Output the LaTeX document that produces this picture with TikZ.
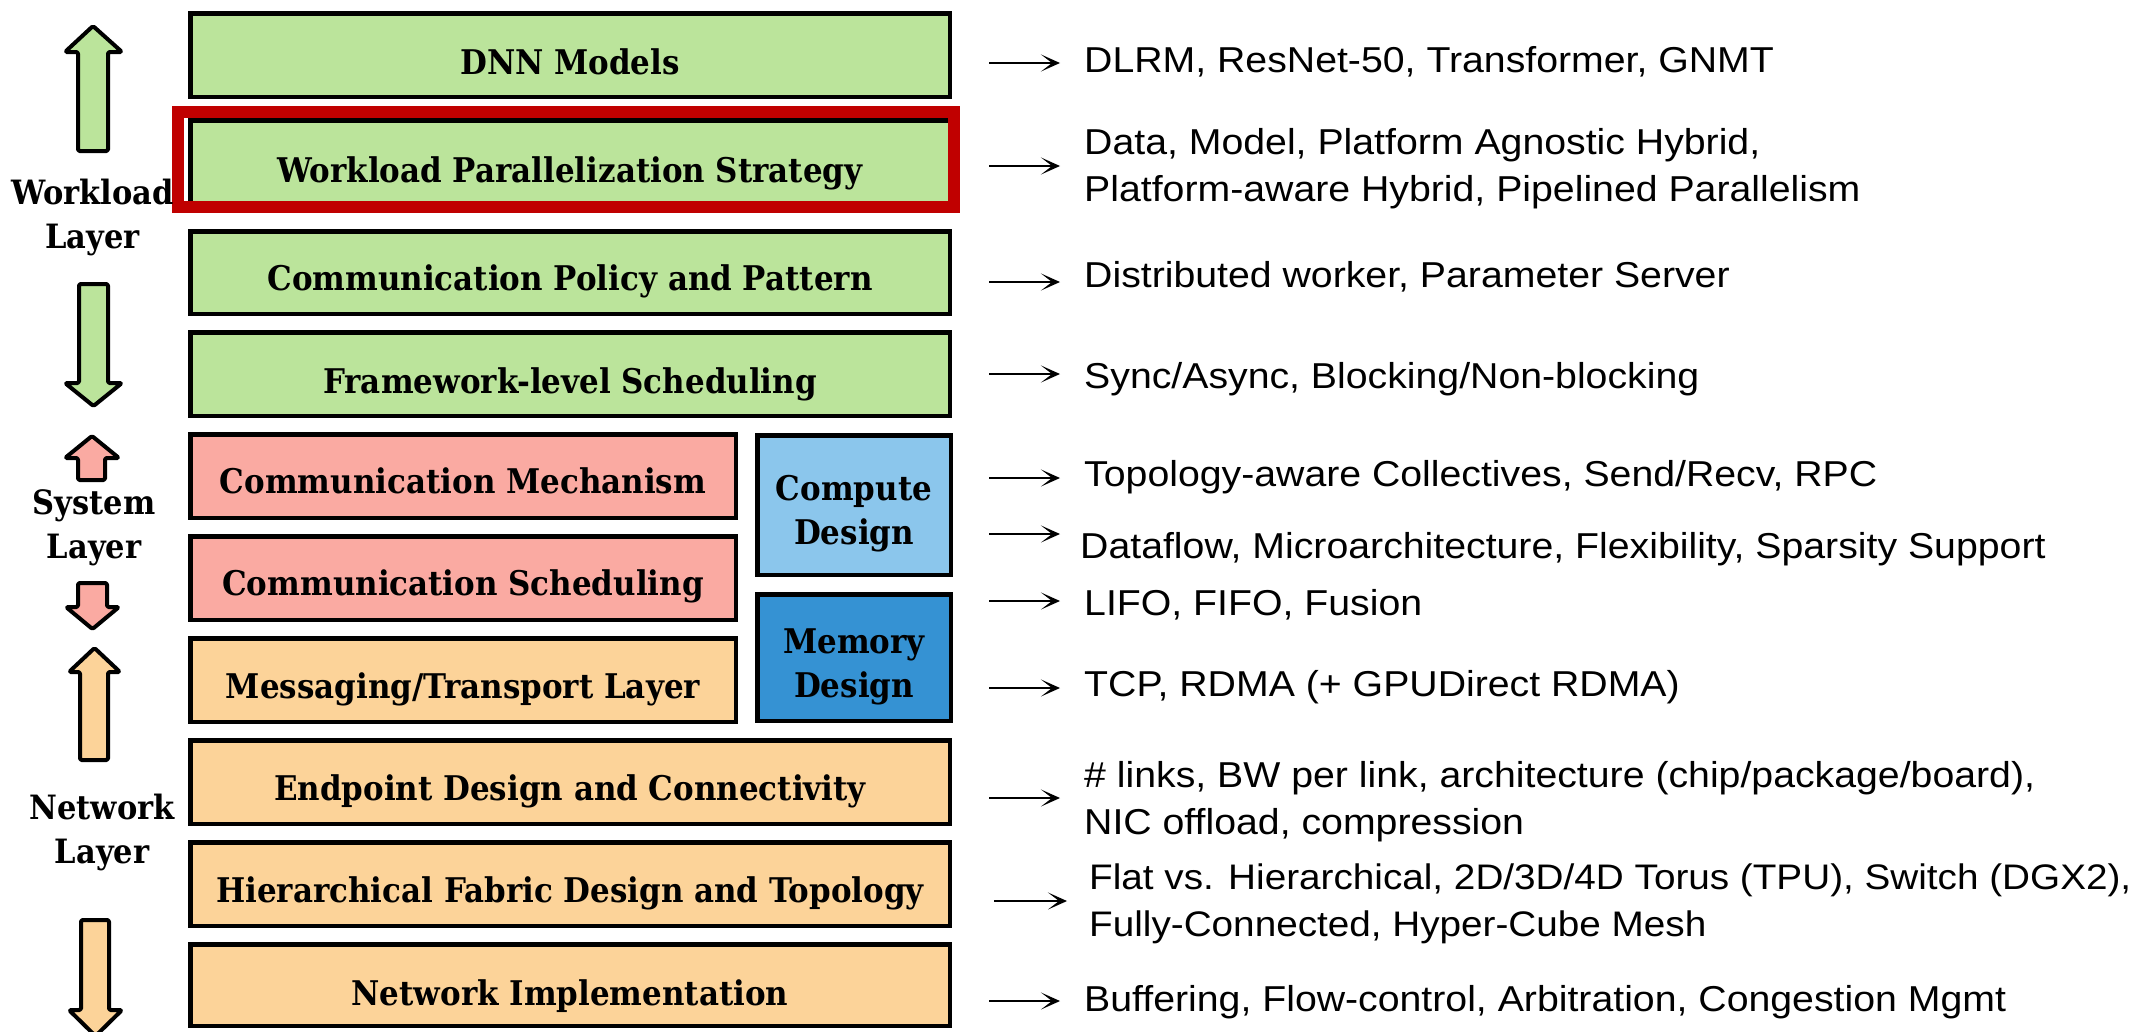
\documentclass[tikz,border=0pt]{standalone}
\usepackage{fontspec}
\setmainfont{Liberation Sans}[FakeStretch=1.09]
\newfontfamily\boxfont[FakeStretch=0.91]{DejaVu Serif}
\usetikzlibrary{arrows.meta}

\definecolor{wlgreen}{RGB}{187,228,155}
\definecolor{syspink}{RGB}{250,170,162}
\definecolor{cmpblue}{RGB}{139,198,236}
\definecolor{memblue}{RGB}{53,146,211}
\definecolor{netorange}{RGB}{252,211,153}
\definecolor{hlred}{RGB}{192,0,0}

\tikzset{
  layerbox/.style={draw=black, line width=4.5pt, rectangle, inner sep=0pt},
  wide/.style={layerbox, minimum width=759.5pt, minimum height=83.5pt},
  narrow/.style={layerbox, minimum width=545.5pt, minimum height=83.5pt},
  boxtext/.style={anchor=base, inner sep=0pt, font=\boxfont\bfseries\fontsize{34}{44}\selectfont},
  sidetext/.style={anchor=center, inner sep=0pt, align=center, font=\boxfont\bfseries\fontsize{34}{44}\selectfont},
  layertext/.style={anchor=center, inner sep=0pt, align=center, font=\boxfont\bfseries\fontsize{33.5}{44}\selectfont},
  fatarrow/.style={draw=black, line width=4pt, line join=round, rounded corners=1.5pt},
  note/.style={inner sep=0pt, align=left, font=\fontsize{36}{47}\selectfont},
  pointer/.style={line width=2pt, -{Stealth[length=19pt,width=17pt,inset=11pt]}, shorten >=24pt},
}

\begin{document}
\begin{tikzpicture}[x=1pt, y=-1pt]
\useasboundingbox (0,0) rectangle (2133,1031);

% ---- layer boxes ----
\node[wide, fill=wlgreen] (dnn) at (570,55) {};
\node[wide, fill=wlgreen, minimum height=82.5pt] (wps) at (570,161.5) {};
\node[wide, fill=wlgreen, minimum height=82.5pt] (cpp) at (570,272.5) {};
\node[wide, fill=wlgreen] (fls) at (570,374) {};
\node[narrow, fill=syspink] (cmm) at (463,476) {};
\node[narrow, fill=syspink] (cms) at (463,578) {};
\node[narrow, fill=netorange] (mtl) at (463,680) {};
\node[wide, fill=netorange] (edc) at (570,782) {};
\node[wide, fill=netorange] (hfd) at (570,884) {};
\node[wide, fill=netorange, minimum height=81.5pt] (nwi) at (570,985) {};
\node[layerbox, fill=cmpblue, minimum width=193.5pt, minimum height=139.5pt] (cmp) at (854,505) {};
\node[layerbox, fill=memblue, minimum width=193.5pt, minimum height=126.5pt] (mem) at (854,657.5) {};

% highlight frame
\draw[hlred, line width=12pt] (178,112) rectangle (954,207);

% ---- box titles ----
\node[boxtext] (dnnT) at (570,74) {DNN Models};
\node[boxtext] (wpsT) at (570,182) {Workload Parallelization Strategy};
\node[boxtext] (cppT) at (570,290) {Communication Policy and Pattern};
\node[boxtext] (flsT) at (570,393) {Framework-level Scheduling};
\node[boxtext] (cmmT) at (463,493) {Communication Mechanism};
\node[boxtext] (cmsT) at (463,595) {Communication Scheduling};
\node[boxtext] (mtlT) at (463,698) {Messaging/Transport Layer};
\node[boxtext] (edcT) at (570,800) {Endpoint Design and Connectivity};
\node[boxtext] (hfdT) at (570,902) {Hierarchical Fabric Design and Topology};
\node[boxtext] (nwiT) at (570,1005) {Network Implementation};
\node[sidetext] (cmpT) at (854,514) {Compute\\Design};
\node[sidetext] (memT) at (854,667) {Memory\\Design};

% ---- layer names ----
\node[layertext] (wlL) at (92.5,217) {Workload\\Layer};
\node[layertext] (syL) at (94,528) {System\\Layer};
\node[layertext] (nwL) at (102,832) {Network\\Layer};

% ---- direction arrows ----
\draw[fatarrow, fill=wlgreen] (93,26) -- (122,52) -- (108,52) -- (108,151) -- (78,151) -- (78,52) -- (65,52) -- cycle;
\draw[fatarrow, fill=wlgreen] (93.5,406) -- (122,383) -- (108,383) -- (108,284) -- (79,284) -- (79,383) -- (65,383) -- cycle;
\draw[fatarrow, fill=syspink] (92,436) -- (119,458) -- (105,458) -- (105,480) -- (78,480) -- (78,458) -- (65,458) -- cycle;
\draw[fatarrow, fill=syspink] (92.5,629) -- (119,607) -- (107,607) -- (107,583) -- (78,583) -- (78,607) -- (66,607) -- cycle;
\draw[fatarrow, fill=netorange] (94.5,648) -- (120,672) -- (108,672) -- (108,760) -- (80,760) -- (80,672) -- (69,672) -- cycle;
\draw[fatarrow, fill=netorange] (95.5,1036) -- (122,1010) -- (109,1010) -- (109,920) -- (81,920) -- (81,1010) -- (69,1010) -- cycle;

% ---- design options ----
\node[note, anchor=base west] (n1) at (1084,72) {DLRM, ResNet-50, Transformer, GNMT};
\node[note, anchor=west] (n2) at (1084,169) {Data, Model, Platform Agnostic Hybrid,\\Platform-aware Hybrid, Pipelined Parallelism};
\node[note, anchor=base west] (n3) at (1084,287) {Distributed worker, Parameter Server};
\node[note, anchor=base west] (n4) at (1084,388) {Sync/Async, Blocking/Non-blocking};
\node[note, anchor=base west] (n5) at (1084,486) {Topology-aware Collectives, Send/Recv, RPC};
\node[note, anchor=base west] (n6) at (1080,558) {Dataflow, Microarchitecture, Flexibility, Sparsity Support};
\node[note, anchor=base west] (n7) at (1084,615) {LIFO, FIFO, Fusion};
\node[note, anchor=base west] (n8) at (1084,696) {TCP, RDMA (+ GPUDirect RDMA)};
\node[note, anchor=west] (n9) at (1084,802) {\# links, BW per link, architecture (chip/package/board),\\NIC offload, compression};
\node[note, anchor=west, font=\fontsize{35.5}{47}\selectfont] (n10) at (1089,904) {Flat vs. Hierarchical, 2D/3D/4D Torus (TPU), Switch (DGX2),\\Fully-Connected, Hyper-Cube Mesh};
\node[note, anchor=base west] (n11) at (1084,1011) {Buffering, Flow-control, Arbitration, Congestion Mgmt};

\coordinate (s1) at (989,63);
\coordinate (s2) at (989,166);
\coordinate (s3) at (989,282);
\coordinate (s4) at (989,374);
\coordinate (s5) at (989,478);
\coordinate (s6) at (989,534);
\coordinate (s7) at (989,601);
\coordinate (s8) at (989,688);
\coordinate (s9) at (989,798);
\coordinate (s10) at (994,901);
\coordinate (s11) at (989,1001);

\draw[pointer] (s1) -- (s1 -| n1.west);
\draw[pointer] (s2) -- (s2 -| n2.west);
\draw[pointer] (s3) -- (s3 -| n3.west);
\draw[pointer] (s4) -- (s4 -| n4.west);
\draw[pointer] (s5) -- (s5 -| n5.west);
\draw[pointer, shorten >=20pt] (s6) -- (s6 -| n6.west);
\draw[pointer] (s7) -- (s7 -| n7.west);
\draw[pointer] (s8) -- (s8 -| n8.west);
\draw[pointer] (s9) -- (s9 -| n9.west);
\draw[pointer, shorten >=22pt] (s10) -- (s10 -| n10.west);
\draw[pointer] (s11) -- (s11 -| n11.west);
\end{tikzpicture}
\end{document}
